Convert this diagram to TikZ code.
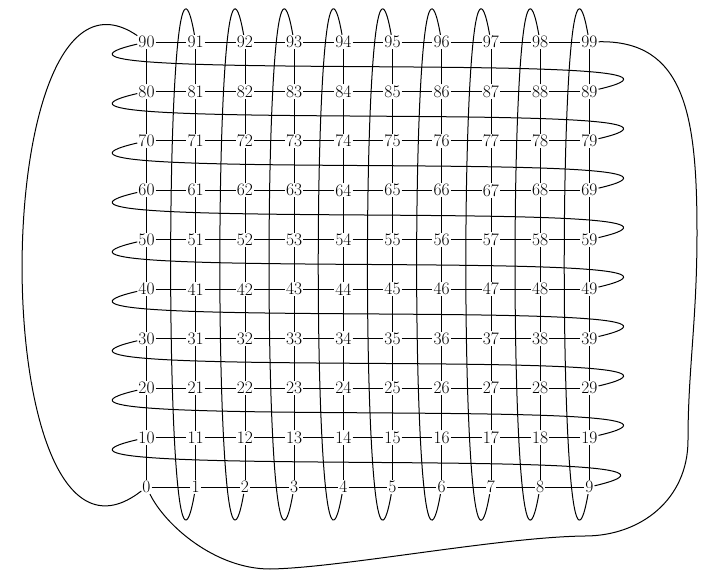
\documentclass[tikz,border=0pt]{standalone}
\begin{document}
\begin{tikzpicture}[x=1pt,y=-1pt,
  vtx/.style={inner sep=1pt, font=\fontsize{17.5}{21}\selectfont},
  gridline/.style={line width=0.8pt},
  wrap/.style={line width=1pt}]
\useasboundingbox (0,0) rectangle (721,580);
\foreach \i in {0,...,9}{
  \foreach \j in {0,...,9}{
    \pgfmathtruncatemacro\n{10*\i+\j}
    \node[vtx] (n\n) at ({146.5+49.2*\j},{487-49.45*\i}) {\n};
  }
}
% horizontal edges
\foreach \i in {0,...,9}{
  \foreach \j in {0,...,8}{
    \pgfmathtruncatemacro\a{10*\i+\j}
    \pgfmathtruncatemacro\b{\a+1}
    \draw[gridline] (n\a) -- (n\b);
  }
}
% vertical edges
\foreach \i in {0,...,8}{
  \foreach \j in {0,...,9}{
    \pgfmathtruncatemacro\a{10*\i+\j}
    \pgfmathtruncatemacro\b{\a+10}
    \draw[gridline] (n\a) -- (n\b);
  }
}
% row wraps
\foreach \i in {0,...,8}{
  \pgfmathtruncatemacro\a{10*\i+9}
  \pgfmathtruncatemacro\b{10*\i+10}
  \draw[wrap] (n\a) .. controls +(185,-43) and +(-185,43) .. (n\b);
}
% column wraps
\foreach \j in {1,...,9}{
  \pgfmathtruncatemacro\a{90+\j}
  \draw[wrap] (n\a) .. controls +(-33,-187) and +(-33,187) .. (n\j);
}
% big curves
\draw[wrap] (n90) .. controls (-17,-70) and (-17,614) .. (n0);
\draw[wrap] (n99) .. controls (685,40) and (697,115) .. (697,233)
  .. controls (697,320) and (688,370) .. (688,440)
  .. controls (688,500) and (640,536) .. (585,536)
  .. controls (500,537) and (340,568) .. (270,569)
  .. controls (215,569) and (165,525) .. (n0);
\end{tikzpicture}
\end{document}
